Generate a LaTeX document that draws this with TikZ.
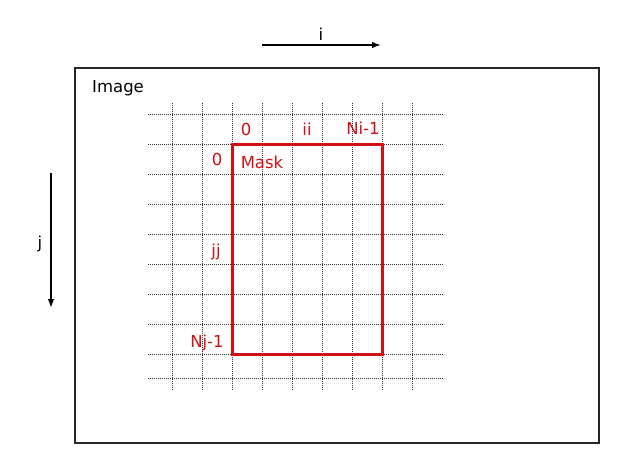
\documentclass[tikz,border=0pt]{standalone}
\usepackage{fontspec}
\setmainfont{DejaVu Sans}
\usetikzlibrary{arrows.meta}
\definecolor{maskred}{RGB}{208,16,20}
\begin{document}
\begin{tikzpicture}[x=1pt,y=-1pt,font=\fontsize{16.5}{19}\selectfont,
	gridline/.style={black!80, line width=0.9pt, dash pattern=on 1pt off 1pt},
	redlabel/.style={text=maskred, inner sep=0pt, anchor=base},
	indexarrow/.style={-{Latex[length=9pt,width=6.5pt]}, line width=1.4pt}]
	
	\useasboundingbox (0,0) rectangle (625,463);
	
	\draw[black!85, line width=1.3pt] (75,68) rectangle (599,443); % image frame
	\node[inner sep=0pt, anchor=base west] (image) at (92,92.5) {Image};
	
	% grid of pixels
	\foreach \x in {172,202,232,262,292,322,352,382,412}
		\draw[gridline] (\x,103) -- (\x,390);
	\foreach \y in {114,144,174,204,234,264,294,324,354,378}
		\draw[gridline] (148,\y) -- (443,\y);
	
	\draw[maskred, line width=3pt] (232,144) rectangle (382,354); % mask
	
	\node[redlabel] (izero) at (246,135) {0};
	\node[redlabel] (ii) at (307,135) {ii};
	\node[redlabel] (ilast) at (363,134.5) {Ni-1};
	\node[redlabel] (jzero) at (217,165) {0};
	\node[redlabel] (maskname) at (262,168) {Mask};
	\node[redlabel] (jj) at (216,256) {jj};
	\node[redlabel] (jlast) at (207,347) {Nj-1};
	
	% index directions
	\coordinate (istart) at (262,45);
	\coordinate (iend) at (381,45);
	\draw[indexarrow] (istart) -- (iend);
	\node[inner sep=0pt, anchor=base] (ilabel) at (321,41) {i};
	
	\coordinate (jstart) at (51,173);
	\coordinate (jend) at (51,308);
	\draw[indexarrow] (jstart) -- (jend);
	\node[inner sep=0pt, anchor=base] (jlabel) at (40,248) {j};
	
\end{tikzpicture}
\end{document}
